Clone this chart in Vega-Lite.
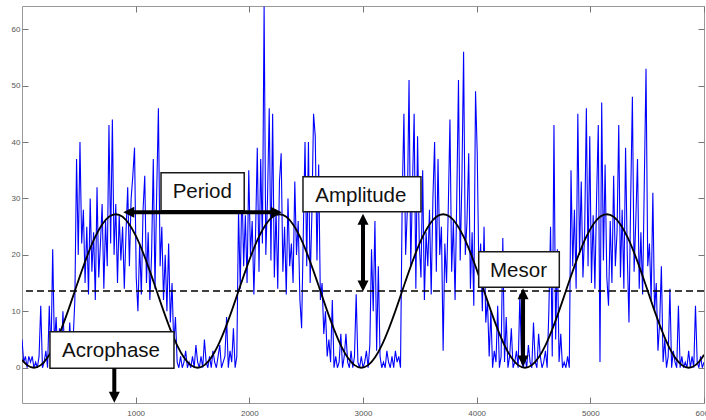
{
  "$schema": "https://vega.github.io/schema/vega-lite/v6.json",
  "width": 682,
  "height": 397,
  "autosize": {"type": "none"},
  "padding": {"left": 22, "top": 6, "right": 2, "bottom": 17},
  "background": "white",
  "config": {"view": {"stroke": "#999999", "strokeWidth": 1}, "font": "Liberation Sans"},
  "datasets": {
    "act": [
      {"t":0,"a":5},{"t":15,"a":1},{"t":30,"a":2},{"t":45,"a":0},{"t":60,"a":2},{"t":75,"a":1},{"t":90,"a":2},{"t":105,"a":0},{"t":120,"a":1},{"t":135,"a":0},{"t":150,"a":2},{"t":165,"a":11},{"t":180,"a":0},{"t":195,"a":1},{"t":210,"a":3},{"t":225,"a":0},{"t":240,"a":11},{"t":255,"a":2},{"t":270,"a":21},{"t":285,"a":4},{"t":300,"a":9},{"t":315,"a":2},{"t":330,"a":7},{"t":345,"a":1},{"t":360,"a":10},{"t":375,"a":3},{"t":390,"a":6},{"t":405,"a":1},{"t":420,"a":8},{"t":435,"a":2},{"t":450,"a":5},{"t":465,"a":12},
      {"t":480,"a":37},{"t":495,"a":20},{"t":510,"a":40},{"t":525,"a":22},{"t":540,"a":28},{"t":555,"a":15},{"t":570,"a":25},{"t":585,"a":13},{"t":600,"a":30},{"t":615,"a":17},{"t":630,"a":24},{"t":645,"a":12},{"t":660,"a":32},{"t":675,"a":16},{"t":690,"a":22},{"t":705,"a":29},{"t":720,"a":14},{"t":735,"a":26},{"t":750,"a":18},{"t":765,"a":43},{"t":780,"a":22},{"t":795,"a":44},{"t":810,"a":20},{"t":825,"a":29},{"t":840,"a":15},{"t":855,"a":27},{"t":870,"a":19},{"t":885,"a":25},{"t":900,"a":14},{"t":915,"a":24},{"t":930,"a":32},{"t":945,"a":18},{"t":960,"a":30},{"t":975,"a":34},{"t":990,"a":39},{"t":1005,"a":16},{"t":1020,"a":10},{"t":1035,"a":22},{"t":1050,"a":13},{"t":1065,"a":28},{"t":1080,"a":34},{"t":1095,"a":15},{"t":1110,"a":24},{"t":1125,"a":12},{"t":1140,"a":20},{"t":1155,"a":37},{"t":1170,"a":14},{"t":1185,"a":31},{"t":1200,"a":46},{"t":1215,"a":18},{"t":1230,"a":25},{"t":1245,"a":12},{"t":1260,"a":20},
      {"t":1275,"a":10},{"t":1290,"a":22},{"t":1305,"a":8},{"t":1320,"a":15},{"t":1335,"a":4},{"t":1350,"a":9},{"t":1365,"a":1},
      {"t":1380,"a":0},{"t":1395,"a":2},{"t":1410,"a":0},{"t":1425,"a":1},{"t":1440,"a":3},{"t":1455,"a":0},{"t":1470,"a":1},{"t":1485,"a":0},{"t":1500,"a":2},{"t":1515,"a":0},{"t":1530,"a":4},{"t":1545,"a":1},{"t":1560,"a":0},{"t":1575,"a":2},{"t":1590,"a":0},{"t":1605,"a":5},{"t":1620,"a":1},{"t":1635,"a":0},{"t":1650,"a":2},{"t":1665,"a":0},{"t":1680,"a":3},{"t":1695,"a":1},{"t":1710,"a":0},{"t":1725,"a":2},{"t":1740,"a":4},{"t":1755,"a":0},{"t":1770,"a":1},{"t":1785,"a":2},{"t":1800,"a":9},{"t":1815,"a":0},{"t":1830,"a":3},{"t":1845,"a":1},{"t":1860,"a":7},{"t":1875,"a":0},{"t":1890,"a":2},
      {"t":1905,"a":28},{"t":1920,"a":14},{"t":1935,"a":33},{"t":1950,"a":18},{"t":1965,"a":27},{"t":1980,"a":15},{"t":1995,"a":35},{"t":2010,"a":20},{"t":2025,"a":26},{"t":2040,"a":13},{"t":2055,"a":24},{"t":2070,"a":39},{"t":2085,"a":17},{"t":2100,"a":37},{"t":2115,"a":22},{"t":2130,"a":64},{"t":2145,"a":20},{"t":2160,"a":30},{"t":2175,"a":46},{"t":2190,"a":19},{"t":2205,"a":45},{"t":2220,"a":16},{"t":2235,"a":28},{"t":2250,"a":14},{"t":2265,"a":33},{"t":2280,"a":38},{"t":2295,"a":17},{"t":2310,"a":25},{"t":2325,"a":13},{"t":2340,"a":30},{"t":2355,"a":18},{"t":2370,"a":22},{"t":2385,"a":15},{"t":2400,"a":33},{"t":2415,"a":20},{"t":2430,"a":26},{"t":2445,"a":12},{"t":2460,"a":7},{"t":2475,"a":24},{"t":2490,"a":40},{"t":2505,"a":18},{"t":2520,"a":40},{"t":2535,"a":15},{"t":2550,"a":27},{"t":2565,"a":45},{"t":2580,"a":41},{"t":2595,"a":19},{"t":2610,"a":36},
      {"t":2625,"a":12},{"t":2640,"a":15},{"t":2655,"a":6},{"t":2670,"a":10},{"t":2685,"a":2},{"t":2700,"a":5},
      {"t":2715,"a":1},{"t":2730,"a":12},{"t":2745,"a":0},{"t":2760,"a":2},{"t":2775,"a":0},{"t":2790,"a":1},{"t":2805,"a":6},{"t":2820,"a":0},{"t":2835,"a":2},{"t":2850,"a":6},{"t":2865,"a":1},{"t":2880,"a":0},{"t":2895,"a":3},{"t":2910,"a":0},{"t":2925,"a":2},{"t":2940,"a":13},{"t":2955,"a":1},{"t":2970,"a":0},{"t":2985,"a":2},{"t":3000,"a":0},{"t":3015,"a":1},{"t":3030,"a":3},{"t":3045,"a":0},{"t":3060,"a":4},{"t":3075,"a":21},{"t":3090,"a":10},{"t":3105,"a":26},{"t":3120,"a":3},{"t":3135,"a":18},{"t":3150,"a":2},{"t":3165,"a":0},{"t":3180,"a":1},{"t":3195,"a":0},{"t":3210,"a":3},{"t":3225,"a":1},{"t":3240,"a":0},{"t":3255,"a":2},{"t":3270,"a":0},{"t":3285,"a":3},{"t":3300,"a":1},{"t":3315,"a":2},{"t":3330,"a":0},
      {"t":3345,"a":30},{"t":3360,"a":45},{"t":3375,"a":20},{"t":3390,"a":28},{"t":3405,"a":51},{"t":3420,"a":18},{"t":3435,"a":32},{"t":3450,"a":45},{"t":3465,"a":14},{"t":3480,"a":41},{"t":3495,"a":22},{"t":3510,"a":16},{"t":3525,"a":35},{"t":3540,"a":12},{"t":3555,"a":24},{"t":3570,"a":18},{"t":3585,"a":28},{"t":3600,"a":13},{"t":3615,"a":30},{"t":3630,"a":40},{"t":3645,"a":17},{"t":3660,"a":37},{"t":3675,"a":20},{"t":3690,"a":25},{"t":3705,"a":3},{"t":3720,"a":22},{"t":3735,"a":15},{"t":3750,"a":28},{"t":3765,"a":44},{"t":3780,"a":17},{"t":3795,"a":26},{"t":3810,"a":12},{"t":3825,"a":30},{"t":3840,"a":51},{"t":3855,"a":19},{"t":3870,"a":33},{"t":3885,"a":56},{"t":3900,"a":20},{"t":3915,"a":26},{"t":3930,"a":38},{"t":3945,"a":14},{"t":3960,"a":24},{"t":3975,"a":11},{"t":3990,"a":49},{"t":4005,"a":38},{"t":4020,"a":16},{"t":4035,"a":22},{"t":4050,"a":10},
      {"t":4065,"a":25},{"t":4080,"a":8},{"t":4095,"a":12},{"t":4110,"a":2},{"t":4125,"a":10},{"t":4140,"a":0},{"t":4155,"a":3},{"t":4170,"a":1},{"t":4185,"a":11},{"t":4200,"a":0},{"t":4215,"a":2},{"t":4230,"a":23},{"t":4245,"a":1},{"t":4260,"a":9},{"t":4275,"a":0},{"t":4290,"a":2},{"t":4305,"a":7},{"t":4320,"a":0},{"t":4335,"a":1},{"t":4350,"a":3},{"t":4365,"a":0},{"t":4380,"a":13},{"t":4395,"a":1},{"t":4410,"a":0},{"t":4425,"a":2},{"t":4440,"a":0},{"t":4455,"a":4},{"t":4470,"a":1},{"t":4485,"a":0},{"t":4500,"a":8},{"t":4515,"a":1},{"t":4530,"a":0},{"t":4545,"a":6},{"t":4560,"a":2},{"t":4575,"a":0},{"t":4590,"a":1},{"t":4605,"a":3},{"t":4620,"a":0},{"t":4635,"a":10},{"t":4650,"a":25},{"t":4665,"a":2},{"t":4680,"a":43},{"t":4695,"a":5},{"t":4710,"a":21},{"t":4725,"a":1},{"t":4740,"a":6},{"t":4755,"a":0},{"t":4770,"a":1},{"t":4785,"a":0},{"t":4800,"a":2},{"t":4815,"a":0},
      {"t":4830,"a":35},{"t":4845,"a":18},{"t":4860,"a":28},{"t":4875,"a":14},{"t":4890,"a":45},{"t":4905,"a":20},{"t":4920,"a":33},{"t":4935,"a":16},{"t":4950,"a":24},{"t":4965,"a":46},{"t":4980,"a":18},{"t":4995,"a":41},{"t":5010,"a":15},{"t":5025,"a":27},{"t":5040,"a":14},{"t":5055,"a":30},{"t":5070,"a":43},{"t":5085,"a":1},{"t":5100,"a":47},{"t":5115,"a":19},{"t":5130,"a":36},{"t":5145,"a":16},{"t":5160,"a":11},{"t":5175,"a":26},{"t":5190,"a":15},{"t":5205,"a":34},{"t":5220,"a":18},{"t":5235,"a":24},{"t":5250,"a":43},{"t":5265,"a":16},{"t":5280,"a":28},{"t":5295,"a":14},{"t":5310,"a":39},{"t":5325,"a":20},{"t":5340,"a":8},{"t":5355,"a":30},{"t":5370,"a":48},{"t":5385,"a":17},{"t":5400,"a":26},{"t":5415,"a":37},{"t":5430,"a":14},{"t":5445,"a":24},{"t":5460,"a":13},{"t":5475,"a":33},{"t":5490,"a":53},{"t":5505,"a":18},{"t":5520,"a":22},{"t":5535,"a":12},{"t":5550,"a":31},
      {"t":5565,"a":10},{"t":5580,"a":15},{"t":5595,"a":3},{"t":5610,"a":8},{"t":5625,"a":18},{"t":5640,"a":1},{"t":5655,"a":5},{"t":5670,"a":0},{"t":5685,"a":2},{"t":5700,"a":14},{"t":5715,"a":0},{"t":5730,"a":3},{"t":5745,"a":1},{"t":5760,"a":0},{"t":5775,"a":11},{"t":5790,"a":0},{"t":5805,"a":2},{"t":5820,"a":0},{"t":5835,"a":1},{"t":5850,"a":0},{"t":5865,"a":3},{"t":5880,"a":0},{"t":5895,"a":2},{"t":5910,"a":0},{"t":5925,"a":11},{"t":5940,"a":1},{"t":5955,"a":0},{"t":5970,"a":2},{"t":5985,"a":0},{"t":6000,"a":1}
    ],
    "fit": [
      {"t":0,"f":1.4},{"t":45,"f":0.46},
      {"t":105,"f":0},{"t":165,"f":0.46},{"t":225,"f":1.82},{"t":285,"f":3.98},{"t":345,"f":6.8},{"t":405,"f":10.08},{"t":465,"f":13.6},{"t":525,"f":17.12},{"t":585,"f":20.4},{"t":645,"f":23.22},{"t":705,"f":25.38},{"t":765,"f":26.74},{"t":825,"f":27.2},{"t":885,"f":26.74},{"t":945,"f":25.38},{"t":1005,"f":23.22},{"t":1065,"f":20.4},{"t":1125,"f":17.12},{"t":1185,"f":13.6},{"t":1245,"f":10.08},{"t":1305,"f":6.8},{"t":1365,"f":3.98},{"t":1425,"f":1.82},{"t":1485,"f":0.46},
      {"t":1545,"f":0},{"t":1605,"f":0.46},{"t":1665,"f":1.82},{"t":1725,"f":3.98},{"t":1785,"f":6.8},{"t":1845,"f":10.08},{"t":1905,"f":13.6},{"t":1965,"f":17.12},{"t":2025,"f":20.4},{"t":2085,"f":23.22},{"t":2145,"f":25.38},{"t":2205,"f":26.74},{"t":2265,"f":27.2},{"t":2325,"f":26.74},{"t":2385,"f":25.38},{"t":2445,"f":23.22},{"t":2505,"f":20.4},{"t":2565,"f":17.12},{"t":2625,"f":13.6},{"t":2685,"f":10.08},{"t":2745,"f":6.8},{"t":2805,"f":3.98},{"t":2865,"f":1.82},{"t":2925,"f":0.46},
      {"t":2985,"f":0},{"t":3045,"f":0.46},{"t":3105,"f":1.82},{"t":3165,"f":3.98},{"t":3225,"f":6.8},{"t":3285,"f":10.08},{"t":3345,"f":13.6},{"t":3405,"f":17.12},{"t":3465,"f":20.4},{"t":3525,"f":23.22},{"t":3585,"f":25.38},{"t":3645,"f":26.74},{"t":3705,"f":27.2},{"t":3765,"f":26.74},{"t":3825,"f":25.38},{"t":3885,"f":23.22},{"t":3945,"f":20.4},{"t":4005,"f":17.12},{"t":4065,"f":13.6},{"t":4125,"f":10.08},{"t":4185,"f":6.8},{"t":4245,"f":3.98},{"t":4305,"f":1.82},{"t":4365,"f":0.46},
      {"t":4425,"f":0},{"t":4485,"f":0.46},{"t":4545,"f":1.82},{"t":4605,"f":3.98},{"t":4665,"f":6.8},{"t":4725,"f":10.08},{"t":4785,"f":13.6},{"t":4845,"f":17.12},{"t":4905,"f":20.4},{"t":4965,"f":23.22},{"t":5025,"f":25.38},{"t":5085,"f":26.74},{"t":5145,"f":27.2},{"t":5205,"f":26.74},{"t":5265,"f":25.38},{"t":5325,"f":23.22},{"t":5385,"f":20.4},{"t":5445,"f":17.12},{"t":5505,"f":13.6},{"t":5565,"f":10.08},{"t":5625,"f":6.8},{"t":5685,"f":3.98},{"t":5745,"f":1.82},{"t":5805,"f":0.46},
      {"t":5865,"f":0},{"t":5925,"f":0.46},{"t":5985,"f":1.82},{"t":6000,"f":2.29}
    ],
    "mesor": [{"m": 13.6}],
    "boxes": [
      {"label":"Period","x1":1223,"x2":1955,"y1":27.8,"y2":34.56,"tx":1586,"ty":30.0},
      {"label":"Amplitude","x1":2472,"x2":3510,"y1":27.65,"y2":33.85,"tx":2981,"ty":29.4},
      {"label":"Mesor","x1":4018,"x2":4727,"y1":14.25,"y2":20.56,"tx":4368,"ty":16.1},
      {"label":"Acrophase","x1":246,"x2":1337,"y1":-0.1,"y2":6.38,"tx":783,"ty":1.85}
    ],
    "shafts": [
      {"name":"Period","x1":961,"x2":2215,"y1":27.55,"y2":27.55},
      {"name":"Amplitude","x1":3000,"x2":3000,"y1":25.9,"y2":14.9},
      {"name":"Mesor","x1":4408,"x2":4408,"y1":12.7,"y2":1.6},
      {"name":"Acrophase","x1":812,"x2":812,"y1":-0.1,"y2":-4.8}
    ],
    "heads": [
      {"x":891,"y":27.55,"d":"left"},
      {"x":2285,"y":27.55,"d":"right"},
      {"x":3000,"y":27.3,"d":"up"},
      {"x":3000,"y":13.5,"d":"down"},
      {"x":4408,"y":14.1,"d":"up"},
      {"x":4408,"y":0.2,"d":"down"},
      {"x":812,"y":-6.2,"d":"down"}
    ]
  },
  "layer": [
    {
      "data": {"name": "act"},
      "mark": {"type": "line", "color": "#0000ff", "strokeWidth": 1.1, "clip": true},
      "encoding": {
        "x": {"field": "t", "type": "quantitative", "scale": {"domain": [0, 6000], "nice": false, "zero": false},
          "axis": {"orient": "bottom", "values": [1000,2000,3000,4000,5000,6000], "format": "d", "title": null, "grid": false, "domain": false,
            "tickSize": -6, "tickColor": "#777777", "tickWidth": 1, "labelFontSize": 8, "labelColor": "#555555",
            "labelFont": "Liberation Sans", "labelPadding": 12, "labelFlush": false, "labelOverlap": false}},
        "y": {"field": "a", "type": "quantitative", "scale": {"domain": [-6.25, 64.1], "nice": false, "zero": false},
          "axis": {"orient": "left", "values": [0,10,20,30,40,50,60], "format": "d", "title": null, "grid": false, "domain": false,
            "tickSize": -6, "tickColor": "#777777", "tickWidth": 1, "labelFontSize": 8, "labelColor": "#555555",
            "labelFont": "Liberation Sans", "labelPadding": 8, "labelOverlap": false}}
      }
    },
    {
      "data": {"name": "fit"},
      "mark": {"type": "line", "color": "#000000", "strokeWidth": 1.8, "interpolate": "monotone", "clip": true},
      "encoding": {
        "x": {"field": "t", "type": "quantitative",
          "axis": {"orient": "top", "values": [1000,2000,3000,4000,5000,6000], "title": null, "grid": false, "domain": false,
            "labels": false, "tickSize": -6, "tickColor": "#777777", "tickWidth": 1}},
        "y": {"field": "f", "type": "quantitative",
          "axis": {"orient": "right", "values": [0,10,20,30,40,50,60], "title": null, "grid": false, "domain": false,
            "labels": false, "tickSize": -6, "tickColor": "#777777", "tickWidth": 1}}
      }
    },
    {
      "data": {"name": "mesor"},
      "mark": {"type": "rule", "color": "#000000", "strokeWidth": 1.6, "strokeDash": [7, 4]},
      "encoding": {
        "y": {"field": "m", "type": "quantitative", "axis": null}
      }
    },
    {
      "data": {"name": "boxes"},
      "mark": {"type": "rect", "fill": "#ffffff", "stroke": "#1a1a1a", "strokeWidth": 1.5},
      "encoding": {
        "x": {"field": "x1", "type": "quantitative", "axis": null},
        "x2": {"field": "x2"},
        "y": {"field": "y1", "type": "quantitative", "axis": null},
        "y2": {"field": "y2"}
      }
    },
    {
      "data": {"name": "boxes"},
      "mark": {"type": "text", "font": "Liberation Sans", "fontSize": 20.5, "color": "#111111", "align": "center", "baseline": "alphabetic"},
      "encoding": {
        "x": {"field": "tx", "type": "quantitative", "axis": null},
        "y": {"field": "ty", "type": "quantitative", "axis": null},
        "text": {"field": "label"}
      }
    },
    {
      "data": {"name": "shafts"},
      "mark": {"type": "rule", "color": "#000000", "strokeWidth": 4, "strokeCap": "butt", "clip": false},
      "encoding": {
        "x": {"field": "x1", "type": "quantitative", "axis": null},
        "x2": {"field": "x2"},
        "y": {"field": "y1", "type": "quantitative", "axis": null},
        "y2": {"field": "y2"}
      }
    },
    {
      "data": {"name": "heads"},
      "mark": {"type": "point", "filled": true, "color": "#000000", "opacity": 1, "size": 121, "strokeWidth": 0},
      "encoding": {
        "x": {"field": "x", "type": "quantitative", "axis": null},
        "y": {"field": "y", "type": "quantitative", "axis": null},
        "shape": {"field": "d", "type": "nominal", "legend": null,
          "scale": {"domain": ["up", "down", "left", "right"],
            "range": ["M0,0L1,2L-1,2Z", "M0,0L1,-2L-1,-2Z", "M0,0L2,1L2,-1Z", "M0,0L-2,1L-2,-1Z"]}}
      }
    }
  ],
  "resolve": {"axis": {"x": "independent", "y": "independent"}}
}
